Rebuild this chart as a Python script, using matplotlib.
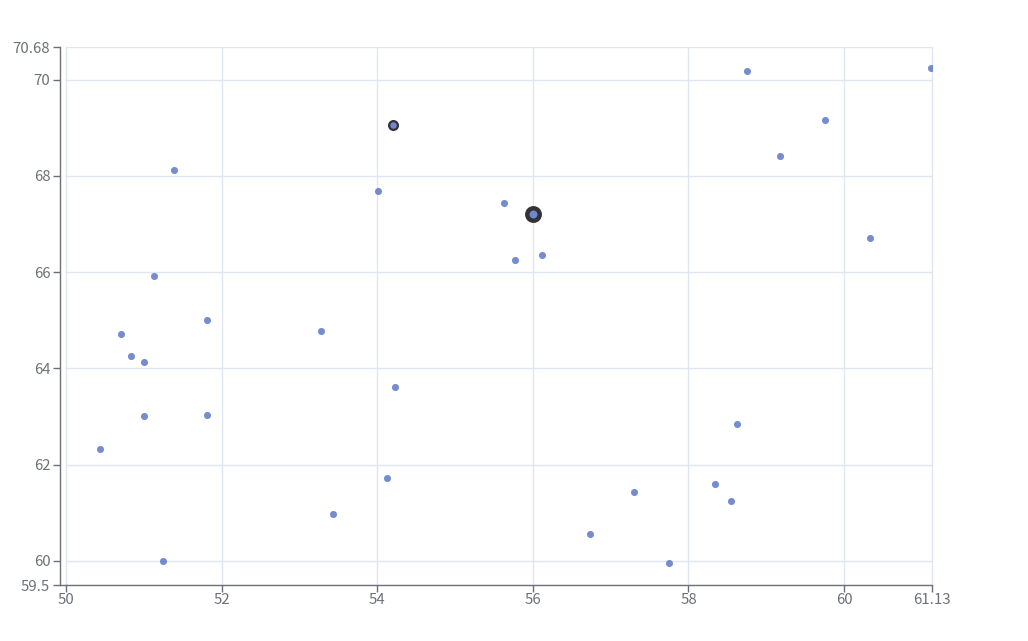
import numpy as np
import matplotlib
matplotlib.use("Agg")
import matplotlib.pyplot as plt
from matplotlib.lines import Line2D

plt.rcParams['font.family'] = ['Noto Sans CJK SC', 'DejaVu Sans']

x_vals = [50.44, 50.71, 50.84, 51.00, 51.00, 51.13, 51.25, 51.39, 51.81, 51.81,
          53.28, 53.43, 54.01, 54.20, 54.23, 54.13, 55.63, 55.77, 56.00, 56.12,
          56.74, 57.30, 57.75, 58.34, 58.55, 58.62, 58.75, 59.18, 59.76, 60.33, 61.12]
y_vals = [62.33, 64.72, 64.26, 64.13, 63.01, 65.92, 60.00, 68.12, 65.01, 63.03,
          64.78, 60.98, 67.69, 69.06, 63.61, 61.72, 67.44, 66.25, 67.21, 66.36,
          60.56, 61.43, 59.96, 61.60, 61.25, 62.85, 70.18, 68.41, 69.16, 66.71, 70.24]
# two points drawn with an emphasis ring
hl_small = (54.20, 69.06)
hl_big = (56.00, 67.21)

x_min, x_max = 50, 61.13
y_min, y_max = 59.5, 70.68
x_ticks = [50, 52, 54, 56, 58, 60, 61.13]
y_ticks = [59.5, 60, 62, 64, 66, 68, 70, 70.68]

axis_col = "#6e7079"
grid_col = "#e0e6f1"
dot_col = "#5470c6"

fig = plt.figure(figsize=(10.28, 6.41), dpi=100)
ax = fig.add_axes([66 / 1028, 56 / 641, 866 / 1028, 538 / 641])

ax.scatter(x_vals, y_vals, s=26, color=dot_col, alpha=0.8, linewidths=0, zorder=3)
ax.scatter([hl_small[0]], [hl_small[1]], s=40, color="#6f88d0", edgecolors="#333333",
           linewidths=1.6, zorder=4)
ax.scatter([hl_big[0]], [hl_big[1]], s=80, color="#6f88d0", edgecolors="#333333",
           linewidths=3.2, zorder=4)

ax.set_xlim(x_min, x_max)
ax.set_ylim(y_min, y_max)
ax.set_xticks(x_ticks)
ax.set_xticklabels([f"{t:g}" for t in x_ticks])
ax.set_yticks(y_ticks)
ax.set_yticklabels([f"{t:g}" for t in y_ticks])

ax.grid(True, color=grid_col, linewidth=1, zorder=0)
ax.set_axisbelow(True)
for gl in ax.get_xgridlines() + ax.get_ygridlines():
    gl.set_clip_on(False)

for s in ["top", "right"]:
    ax.spines[s].set_visible(False)
ax.spines["left"].set_position(("outward", 4.3))
for s in ["left", "bottom"]:
    ax.spines[s].set_color(axis_col)
    ax.spines[s].set_linewidth(1)
    ax.spines[s].set_zorder(5)

ax.tick_params(axis="both", colors=axis_col, labelcolor=axis_col, labelsize=10.8,
               length=5, width=1, direction="out")
ax.tick_params(axis="x", pad=1)
ax.tick_params(axis="y", pad=2)

# short bit of the x axis line reaching the offset y axis
fig.add_artist(Line2D([60 / 1028, 66 / 1028], [56 / 641, 56 / 641], color=axis_col,
                      linewidth=1, transform=fig.transFigure))

fig.savefig("out.png", dpi=100)
